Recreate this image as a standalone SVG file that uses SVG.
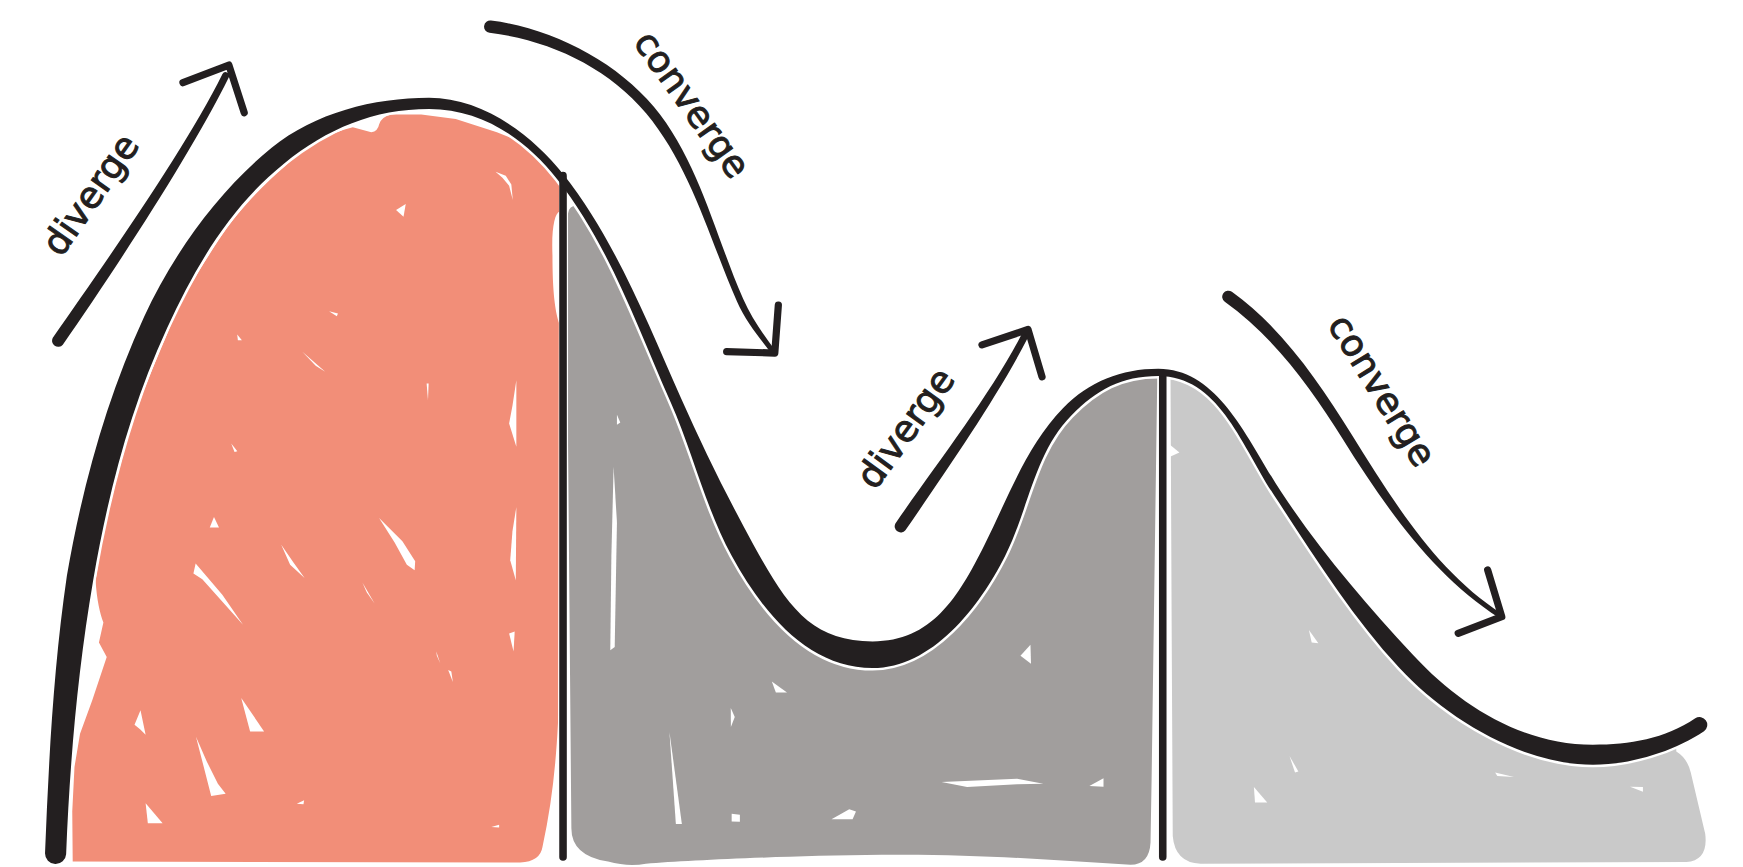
<svg xmlns="http://www.w3.org/2000/svg" width="1743" height="867" viewBox="0 0 1743 867">
<defs>
<style>
.ink{fill:#231F20}
.head{fill:none;stroke:#231F20;stroke-width:6.5;stroke-linecap:round;stroke-linejoin:round}
.rule{stroke:#231F20;stroke-width:6.8;stroke-linecap:round}
.lbl{font-family:"DejaVu Sans","Liberation Sans",sans-serif;font-size:33px;fill:#231F20;stroke:#231F20;stroke-width:0.9}
.w{fill:#FFFFFF}
</style>
<clipPath id="under"><path d="M50,768 C53.3,685.1 58,601.8 72,520 C85.5,441.1 106.5,362.6 140,290 C166,233.7 201.8,178.9 250,140 C288.9,108.6 336,93 386,93 C433,93 474.9,122.1 504,159 C550.5,217.9 577.6,291.4 608,360 C627.8,404.8 644.5,452 668,495 C698.7,551.2 730,589 785,589 C838,589 871.3,542.4 895,495 C916,453 927.1,404.1 960,370.5 C983.1,346.9 1009,335 1042,335 C1097,335 1119.7,399.1 1150,445 C1184.7,497.6 1222.2,548.8 1265,595 C1307.8,641.2 1370,679 1433,679 C1466,679 1501.7,670.5 1529,652 L1600,652 L1600,820 L20,820 L20,768 Z"/></clipPath>
<path id="curvePath" d="M59.49,768.38 C62.79,685.48 69.83,603.83 83.83,522.03 C97.33,443.13 116.94,367.42 150.44,294.82 C176.44,238.52 207.45,185.9 255.65,147 C294.55,115.6 336,98 386,98 C433,98 472.15,124.27 501.25,161.17 C547.75,220.07 573.03,293.43 603.43,362.03 C623.23,406.83 634.84,457.27 658.34,500.27 C689.04,556.47 730,601 785,601 C838,601 880.69,547.09 904.39,499.69 C925.39,457.69 930.67,407.6 963.57,374 C986.67,350.4 1009,338.25 1042,338.25 C1097,338.25 1116.78,401.03 1147.08,446.93 C1181.78,499.53 1215.97,554.58 1258.77,600.78 C1301.57,646.98 1370,688 1433,688 C1466,688 1505.63,676.29 1532.93,657.79 A7,7 0 0 0 1525.07,646.21 C1497.77,664.71 1466,670 1433,670 C1370,670 1314.03,635.42 1271.23,589.22 C1228.43,543.02 1187.62,495.67 1152.92,443.07 C1122.62,397.17 1097,331.75 1042,331.75 C1009,331.75 979.53,343.4 956.43,367 C923.53,400.6 906.61,448.31 885.61,490.31 C861.91,537.71 838,577 785,577 C730,577 708.36,545.93 677.66,489.73 C654.16,446.73 632.37,402.77 612.57,357.97 C582.17,289.37 553.25,215.73 506.75,156.83 C477.65,119.93 433,88 386,88 C336,88 283.25,101.6 244.35,133 C196.15,171.9 155.56,228.88 129.56,285.18 C96.06,357.78 73.67,439.07 60.17,517.97 C48.17,599.77 43.81,684.72 40.51,767.62 A9.5,9.5 0 0 0 59.49,768.38 Z"/>
</defs>
<rect width="1743" height="867" fill="#FFFFFF"/>
<g transform="scale(1.11161)">
  <g id="fills" clip-path="url(#under)">
    <path id="salmon" fill="#F28E78" d="M65.4,775 L468,776 Q486,775 488,762 C496,725 500,690 502,650 L503,150 L470,128 L447,119 L410,107 L379,103 L352,103 Q343,105 341,112 Q340,118 334,119 L317.4,114.5 C295,120 275,131 257.2,148.9 C235,168 212,192 196.7,216 C178,245 163,268 152.3,295.7 C136,335 120,370 111.5,406.5 C101,445 92,480 86,522 C87,540 90,552 93,560 L89,578 L96,591 L83,630 L72,660 L67,690 L65,730 Z"/>
    <path id="darkgray" fill="#A19E9D" d="M511,192 Q512,184 521,185 L1041,185 L1041,345 L1036,700 L1035,758 Q1034,778 1017,778 C950,774 880,768 793,769 C700,770 620,774 581,777 Q565,780 547,775 Q514,770 514,745 L511,400 Z"/>
    <path id="lightgray" fill="#C9C9C9" d="M1053,340 L1500,340 L1508,676 Q1518,682 1521,695 L1534,750 Q1537,774 1517,775.5 L1080,777 Q1057,776 1055,752 L1054,560 Z"/>
  </g>
  <g id="texture" class="w">
    <path d="M503.5,190 C499,192 496,205 497,230 C497,260 499,280 503.5,292 Z"/>
    <polygon points="445.8,154.4 455,158 460,166 461.3,180 458,167 452,160"/>
    <polygon points="356.3,189 365,183.5 363,195"/>
    <polygon points="296,280 304,282 303,284.5"/>
    <polygon points="213.4,301 217.6,306 214,306"/>
    <polygon points="272,316.4 292.6,334.4 284,329"/>
    <polygon points="383.8,345 385.6,345 385,360"/>
    <polygon points="464.5,342 464.5,402 458,381 461,365"/>
    <polygon points="464.5,456 464,522 459,504 461,478"/>
    <polygon points="208,399 211,406.6 213.5,406"/>
    <polygon points="192.5,465 188.7,474.6 197,474.6"/>
    <polygon points="253,490 264,506 274,520 261,508"/>
    <polygon points="341,466 362,487 373.5,505 373,513 366,508 355,488"/>
    <polygon points="176,507 174,516 182,521 218.6,562 200,535"/>
    <polygon points="326,524 337,543 330,533"/>
    <polygon points="392.5,586 396,596.7 393,590"/>
    <polygon points="403.2,602.7 407.4,613.6 406,604"/>
    <polygon points="458,570 463,568 462,586"/>
    <polygon points="126.4,639 121,652 126,656 131,661"/>
    <polygon points="217,628 225,658 237.6,658"/>
    <polygon points="176.3,662.7 190,716 203,714 196,705 186,685"/>
    <polygon points="131,722.6 133,740.5 146.3,740.5"/>
    <polygon points="267,723 273.6,720 273,723.5"/>
    <polygon points="442,744 449,742 449,744.5"/>
    <polygon points="552,420 555,470 553,582 549,585 550,500"/>
    <polygon points="555,373 558,380 555,382"/>
    <polygon points="694.3,613 698,623 708,623"/>
    <polygon points="657.4,637 661,645 657.5,654"/>
    <polygon points="602.2,658.2 608,741.3 613.4,741.3"/>
    <polygon points="658.2,732 665.6,733 665.6,739.2 658.2,739"/>
    <polygon points="748,737 764,728 770,730 767,737"/>
    <polygon points="918,590 927,580 927.5,597"/>
    <polygon points="847,703.5 915,700.5 938.6,705 915,705.5 870,708"/>
    <polygon points="980,707 992.7,700 992.7,707.7"/>
    <polygon points="1050,398 1061,407 1050,412"/>
    <polygon points="1177.5,566.7 1186,578.7 1180,578"/>
    <polygon points="1160,680 1165,695 1168,694"/>
    <polygon points="1128,708 1129,722 1140,722"/>
    <polygon points="1345,695 1362,699 1347,698"/>
    <polygon points="1466.4,707.7 1478,708 1478,712.2"/>
  </g>
  <use href="#curvePath" fill="none" stroke="#FFFFFF" stroke-width="4.5" stroke-linejoin="round"/>
  <g id="dividers">
    <line class="rule" x1="506.5" y1="158" x2="506.5" y2="771"/>
    <line class="rule" x1="1046" y1="336" x2="1046" y2="771"/>
  </g>
  <g id="curve">
    <use href="#curvePath" class="ink"/>
  </g>
  <g id="arrows">
    <g id="arrow-diverge-1">
      <path class="ink" d="M56.5,310.1 C104.5,241.1 172.87,136.41 205.87,69.41 A3.2,3.2 0 0 0 200.13,66.59 C167.13,133.59 95.5,234.9 47.5,303.9 A5.5,5.5 0 0 0 56.5,310.1 Z"/>
      <path class="head" d="M164.6,74.4 L205.9,58.5 L219.7,101.4"/>
    </g>
    <g id="arrow-converge-1">
      <path class="ink" d="M440.3,29.5 C493.9,35.9 546.6,60.4 581.2,101.9 C621.5,150.3 637.7,213.6 663,271.2 C670.6,288.6 682.8,303.2 694.2,318.4 L697.8,315.7 C686.4,300.5 676.1,286.2 668.5,268.8 C643.2,211.2 628.5,144.5 588.2,96.1 C553.6,54.6 495.3,24.9 441.7,18.5 A5.5,5.5 0 0 0 440.3,29.5 Z"/>
      <path class="head" d="M700.2,274.4 L697,317.6 L653.7,316.4"/>
    </g>
    <g id="arrow-diverge-2">
      <path class="ink" d="M814.5,477.1 C849.5,426.1 897.85,356.45 924.85,303.45 A3.2,3.2 0 0 0 919.15,300.55 C892.15,353.55 840.5,419.9 805.5,470.9 A5.5,5.5 0 0 0 814.5,477.1 Z"/>
      <path class="head" d="M883.4,310.2 L924.8,296.4 L937.4,339"/>
    </g>
    <g id="arrow-converge-2">
      <path class="ink" d="M1101.8,271.5 C1146.4,303.4 1179,348.6 1208.2,395.4 C1245.3,454.9 1289.6,518.4 1348.8,555.9 L1351.2,552.1 C1292,514.6 1252.9,450.1 1215.8,390.6 C1186.6,343.8 1152.8,294.4 1108.2,262.5 A5.5,5.5 0 0 0 1101.8,271.5 Z"/>
      <path class="head" d="M1338.3,512.8 L1351,554.8 L1311.8,569.7"/>
    </g>
  </g>
  <g id="labels">
    <text class="lbl" text-anchor="middle" transform="translate(90.6,181.5) rotate(-54.9)">diverge</text>
    <text class="lbl" text-anchor="middle" transform="translate(613.4,100.4) rotate(54.5)">converge</text>
    <text class="lbl" text-anchor="middle" transform="translate(823.7,391.7) rotate(-54)">diverge</text>
    <text class="lbl" text-anchor="middle" transform="translate(1233.8,357.1) rotate(58.4)">converge</text>
  </g>
</g>
</svg>
